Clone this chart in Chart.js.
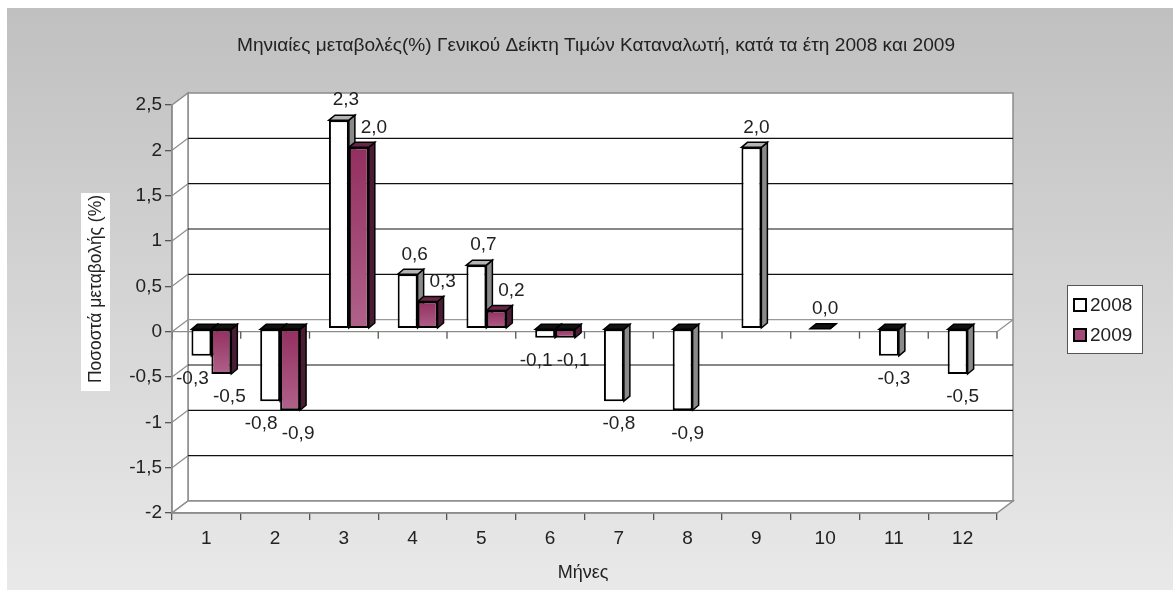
<!DOCTYPE html>
<html>
<head>
<meta charset="utf-8">
<script src="https://cdn.jsdelivr.net/npm/chart.js@4.4.1/dist/chart.umd.min.js"></script>
<style>
  html, body { margin: 0; padding: 0; background: #fff; }
  #wrap { width: 1173px; height: 590px; }
</style>
</head>
<body>
<div id="wrap"><canvas id="chart" width="1173" height="590"></canvas></div>
<script>
// data
const months = ['1', '2', '3', '4', '5', '6', '7', '8', '9', '10', '11', '12'];
const series2008 = [-0.3, -0.8, 2.3, 0.6, 0.7, -0.1, -0.8, -0.9, 2.0, 0.0, -0.3, -0.5];
const series2009 = [-0.5, -0.9, 2.0, 0.3, 0.2, -0.1, null, null, null, null, null, null];
const seriesNames = ['2008', '2009'];
const yMin = -2, yMax = 2.5, yStep = 0.5;

const chartTitle = 'Μηνιαίες μεταβολές(%) Γενικού Δείκτη Τιμών Καταναλωτή, κατά τα έτη 2008 και 2009';
const yTitle = 'Ποσοστά μεταβολής (%)';
const xTitle = 'Μήνες';

const FONT = "'Liberation Sans', Arial, sans-serif";
const TXT = '#222';
const WALL = '#8c8c8c';
// depth of the walls and of the bars (3d look)
const WDX = 16, WDY = -12;
const BDX = 6, BDY = -5;
const SHIFT_X = 5, SHIFT_Y = -3;

const PURPLE = '#a34a78';
const faceColors = [
  { side: '#8a8a8a', topUp: '#b4b4b4' },
  { side: '#4a1d35', topUp: '#6a2448' }
];

const fmt = v => (Math.round(v * 10) / 10).toFixed(1).replace('.', ',');

function purpleFill(ctx) {
  const chart = ctx.chart;
  const v = ctx.raw;
  if (v == null || !chart.chartArea) return PURPLE;
  const y = chart.scales.y;
  const a = y.getPixelForValue(Math.max(v, 0));
  const b = y.getPixelForValue(Math.min(v, 0));
  const g = chart.ctx.createLinearGradient(0, a, 0, b + 1);
  g.addColorStop(0, '#932f60');
  g.addColorStop(1, '#b0628a');
  return g;
}

const backdrop = {
  id: 'backdrop',
  beforeDraw(chart) {
    const c = chart.ctx;
    const { left: L, right: R, top: T, bottom: B } = chart.chartArea;
    const y = chart.scales.y, x = chart.scales.x;
    c.save();
    c.fillStyle = '#fff';
    c.fillRect(0, 0, chart.width, chart.height);
    const g = c.createLinearGradient(0, 8, 0, chart.height);
    g.addColorStop(0, '#c0c0c0');
    g.addColorStop(1, '#e9e9e9');
    c.fillStyle = g;
    c.fillRect(7, 8, chart.width - 7, chart.height - 8);

    c.lineWidth = 1.5;
    c.strokeStyle = WALL;
    c.fillStyle = '#fff';
    // back wall
    c.beginPath();
    c.rect(L + WDX, T + WDY, R - L, B - T);
    c.fill(); c.stroke();
    // left wall
    c.beginPath();
    c.moveTo(L, T); c.lineTo(L + WDX, T + WDY); c.lineTo(L + WDX, B + WDY); c.lineTo(L, B); c.closePath();
    c.fill(); c.stroke();
    // floor
    c.beginPath();
    c.moveTo(L, B); c.lineTo(R, B); c.lineTo(R + WDX, B + WDY); c.lineTo(L + WDX, B + WDY); c.closePath();
    c.fill(); c.stroke();

    // gridlines on the walls
    for (let v = yMin + yStep; v < yMax; v += yStep) {
      const py = y.getPixelForValue(v);
      c.strokeStyle = Math.abs(v) < 1e-9 ? '#999' : '#111';
      c.lineWidth = 1.2;
      c.beginPath();
      c.moveTo(L + WDX, py + WDY); c.lineTo(R + WDX, py + WDY);
      c.stroke();
      c.strokeStyle = WALL;
      c.beginPath();
      c.moveTo(L, py); c.lineTo(L + WDX, py + WDY);
      c.stroke();
    }
    // front zero line with its ticks
    const y0 = y.getPixelForValue(0);
    c.strokeStyle = WALL;
    c.lineWidth = 1.3;
    c.beginPath();
    c.moveTo(L, y0); c.lineTo(R, y0); c.lineTo(R + WDX, y0 + WDY);
    c.stroke();
    const step = (R - L) / months.length;
    c.strokeStyle = '#555';
    for (let i = 0; i <= months.length; i++) {
      const px = x.getPixelForValue(i) - step / 2;
      c.beginPath();
      c.moveTo(px, y0); c.lineTo(px, y0 + 7);
      c.stroke();
    }
    c.restore();
  },
  beforeDatasetsDraw(chart) {
    const c = chart.ctx;
    c.save();
    c.translate(SHIFT_X, SHIFT_Y);
    // side and top faces first, the front faces cover them where needed
    chart.data.datasets.forEach((ds, i) => {
      const meta = chart.getDatasetMeta(i);
      meta.data.forEach((el, j) => {
        const v = ds.data[j];
        if (v == null) return;
        const p = el.getProps(['x', 'y', 'base', 'width'], true);
        const l = p.x - p.width / 2, r = p.x + p.width / 2;
        const top = Math.min(p.y, p.base), bot = Math.max(p.y, p.base);
        c.lineWidth = 1.5;
        c.strokeStyle = '#000';
        c.fillStyle = faceColors[i].side;
        c.beginPath();
        c.moveTo(r, top); c.lineTo(r + BDX, top + BDY); c.lineTo(r + BDX, bot + BDY); c.lineTo(r, bot); c.closePath();
        c.fill(); c.stroke();
        c.fillStyle = v > 0 ? faceColors[i].topUp : '#111';
        c.beginPath();
        c.moveTo(l, top); c.lineTo(l + BDX, top + BDY); c.lineTo(r + BDX, top + BDY); c.lineTo(r, top); c.closePath();
        c.fill(); c.stroke();
      });
    });
  },
  afterDatasetsDraw(chart) {
    const c = chart.ctx;
    c.restore();
    c.save();
    c.font = '19px ' + FONT;
    c.fillStyle = TXT;
    c.textAlign = 'center';
    c.textBaseline = 'middle';
    chart.data.datasets.forEach((ds, i) => {
      const meta = chart.getDatasetMeta(i);
      meta.data.forEach((el, j) => {
        const v = ds.data[j];
        if (v == null) return;
        const paired = chart.data.datasets.every(d => d.data[j] != null);
        const p = el.getProps(['x', 'y', 'base'], true);
        let dx;
        if (!paired) dx = 5;
        else if (v >= 0) dx = i === 0 ? 7 : 15;
        else dx = i === 0 ? -9 : 8;
        const px = p.x + SHIFT_X + dx;
        const py = v >= 0 ? Math.min(p.y, p.base) + SHIFT_Y - 20 : Math.max(p.y, p.base) + SHIFT_Y + 23;
        c.fillText(fmt(v), px, py);
      });
    });
    c.restore();
  },
  afterDraw(chart) {
    const c = chart.ctx;
    c.save();
    c.fillStyle = TXT;
    c.textBaseline = 'middle';
    c.textAlign = 'center';

    // title, squeezed to the width it has in the picture
    c.font = '18px ' + FONT;
    const tw = c.measureText(chartTitle).width;
    c.save();
    c.translate(596, 46);
    c.scale(718 / tw, 1);
    c.fillText(chartTitle, 0, 0);
    c.restore();

    // y title on its white box
    c.fillStyle = '#fff';
    c.fillRect(81, 193, 29, 198);
    c.fillStyle = TXT;
    c.font = '18px ' + FONT;
    const yw = c.measureText(yTitle).width;
    c.save();
    c.translate(96, 289);
    c.rotate(-Math.PI / 2);
    c.scale(188 / yw, 1);
    c.fillText(yTitle, 0, 0);
    c.restore();

    // x title
    c.font = '18px ' + FONT;
    c.fillText(xTitle, 583, 573);

    // legend
    c.fillStyle = '#fff';
    c.strokeStyle = '#555';
    c.lineWidth = 1;
    c.fillRect(1067, 285, 75, 68);
    c.strokeRect(1067.5, 285.5, 75, 68);
    const fills = ['#fff', PURPLE];
    seriesNames.forEach((name, i) => {
      const cy = 305 + i * 30;
      c.fillStyle = fills[i];
      c.fillRect(1074, cy - 6, 12, 12);
      c.strokeStyle = '#000';
      c.lineWidth = 2;
      c.strokeRect(1074, cy - 6, 12, 12);
      c.fillStyle = TXT;
      c.textAlign = 'left';
      c.font = '19px ' + FONT;
      c.fillText(name, 1090, cy + 1);
    });
    c.restore();
  }
};

new Chart(document.getElementById('chart'), {
  type: 'bar',
  data: {
    labels: months,
    datasets: [
      {
        label: seriesNames[0],
        data: series2008,
        backgroundColor: '#fff',
        borderColor: '#000',
        borderWidth: 2,
        borderSkipped: false,
        categoryPercentage: 0.58,
        barPercentage: 1
      },
      {
        label: seriesNames[1],
        data: series2009,
        backgroundColor: purpleFill,
        borderColor: '#000',
        borderWidth: 2,
        borderSkipped: false,
        categoryPercentage: 0.58,
        barPercentage: 1
      }
    ]
  },
  options: {
    responsive: false,
    devicePixelRatio: 1,
    animation: false,
    layout: { padding: { left: 0, top: 105, right: 176, bottom: 0 } },
    plugins: {
      legend: { display: false },
      title: { display: false },
      tooltip: { enabled: false }
    },
    scales: {
      x: {
        grid: { offset: true, drawOnChartArea: false, tickLength: 7, color: '#555', lineWidth: 1.3 },
        border: { color: WALL, width: 1.5 },
        ticks: { font: { family: FONT, size: 19 }, color: TXT, padding: 7, maxRotation: 0 },
        afterFit(scale) { scale.height = 77; }
      },
      y: {
        min: yMin,
        max: yMax,
        grid: { drawOnChartArea: false, tickLength: 7, color: '#555', lineWidth: 1.3 },
        border: { color: WALL, width: 1.5 },
        ticks: {
          stepSize: yStep,
          font: { family: FONT, size: 19 },
          color: TXT,
          padding: 3,
          callback: v => String(v).replace('.', ',')
        },
        afterFit(scale) { scale.width = 172; }
      }
    }
  },
  plugins: [backdrop]
});
</script>
</body>
</html>
